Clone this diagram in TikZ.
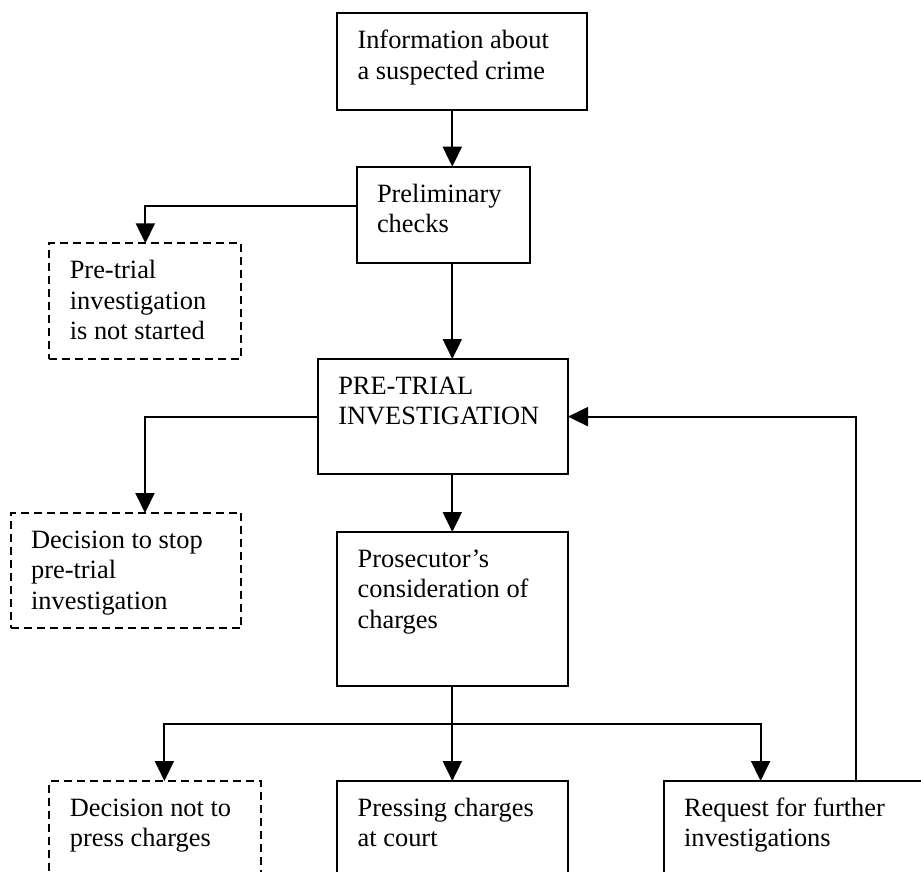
\documentclass[tikz,border=0pt]{standalone}
\usepackage{fontspec}
\setmainfont{Liberation Serif}
\usetikzlibrary{arrows.meta}

% box text: width, total height, lines (first baseline 35.5pt below the top)
\newcommand\boxlines[3]{\parbox[t][#2][t]{#1}{\raggedright\rule{0pt}{35.5pt}#3}}

\tikzset{
  box/.style={draw, line width=2pt, rectangle, anchor=north west,
    inner xsep=20.5pt, inner ysep=0pt, outer sep=0pt,
    font=\fontsize{26.4}{30.4}\selectfont},
  dbox/.style={box, dash pattern=on 8pt off 5pt},
  arr/.style={line width=2pt, -{Triangle[length=20pt,width=19pt]}},
}

\begin{document}
\begin{tikzpicture}[x=1pt,y=-1pt]
  \useasboundingbox (0,0) rectangle (921,872);
  \fill[white] (0,0) rectangle (921,872);
  \clip (0,0) rectangle (921,872);

  % guide coordinates for the connector routes
  \coordinate (main) at (452.3,0);
  \coordinate (tap)  at (0,205.7);
  \coordinate (col)  at (145,0);
  \coordinate (fork) at (0,724);
  \coordinate (lbr)  at (164.4,0);
  \coordinate (rbr)  at (760.6,0);
  \coordinate (fb)   at (856,0);

  % boxes
  \node[box]  (info)       at (337,13.3)   {\boxlines{209.3pt}{96.7pt}{Information about\\a suspected crime}};
  \node[box]  (prelim)     at (356.5,166.7){\boxlines{132.3pt}{96.6pt}{Preliminary\\checks}};
  \node[dbox] (notstarted) at (49.3,243.3) {\boxlines{151.1pt}{115.7pt}{Pre-trial\\investigation\\is not started}};
  \node[box]  (pti)        at (317.8,359)  {\boxlines{209.2pt}{115.3pt}{PRE-TRIAL\\INVESTIGATION}};
  \node[dbox] (stop)       at (10.6,513)   {\boxlines{189.8pt}{115.3pt}{Decision to stop\\pre-trial\\investigation}};
  \node[box]  (pros)       at (337.2,532)  {\boxlines{189.8pt}{154pt}{Prosecutor’s\\consideration of\\charges}};
  \node[dbox] (notpress)   at (49.3,781)   {\boxlines{170.2pt}{120pt}{Decision not to\\press charges}};
  \node[box]  (pressing)   at (337.2,781)  {\boxlines{189.8pt}{120pt}{Pressing charges\\at court}};
  \node[box]  (request)    at (663.5,781)  {\boxlines{239pt}{120pt}{Request for further\\investigations}};

  % connectors
  \draw[arr] (info.south -| main) -- (prelim.north -| main);
  \draw[arr] (prelim.west |- tap) -| (notstarted.north);
  \draw[arr] (prelim.south -| main) -- (pti.north -| main);
  \draw[arr] (pti.west) -| (stop.north -| col);
  \draw[arr] (pti.south -| main) -- (pros.north -| main);
  \draw[arr] (pros.south -| main) -- (pressing.north -| main);
  \draw[arr] (fork -| rbr) -- (fork -| lbr) -- (notpress.north -| lbr);
  \draw[arr] (fork -| lbr) -- (fork -| rbr) -- (request.north -| rbr);
  \draw[arr] (request.north -| fb) |- (pti.east);
\end{tikzpicture}
\end{document}
